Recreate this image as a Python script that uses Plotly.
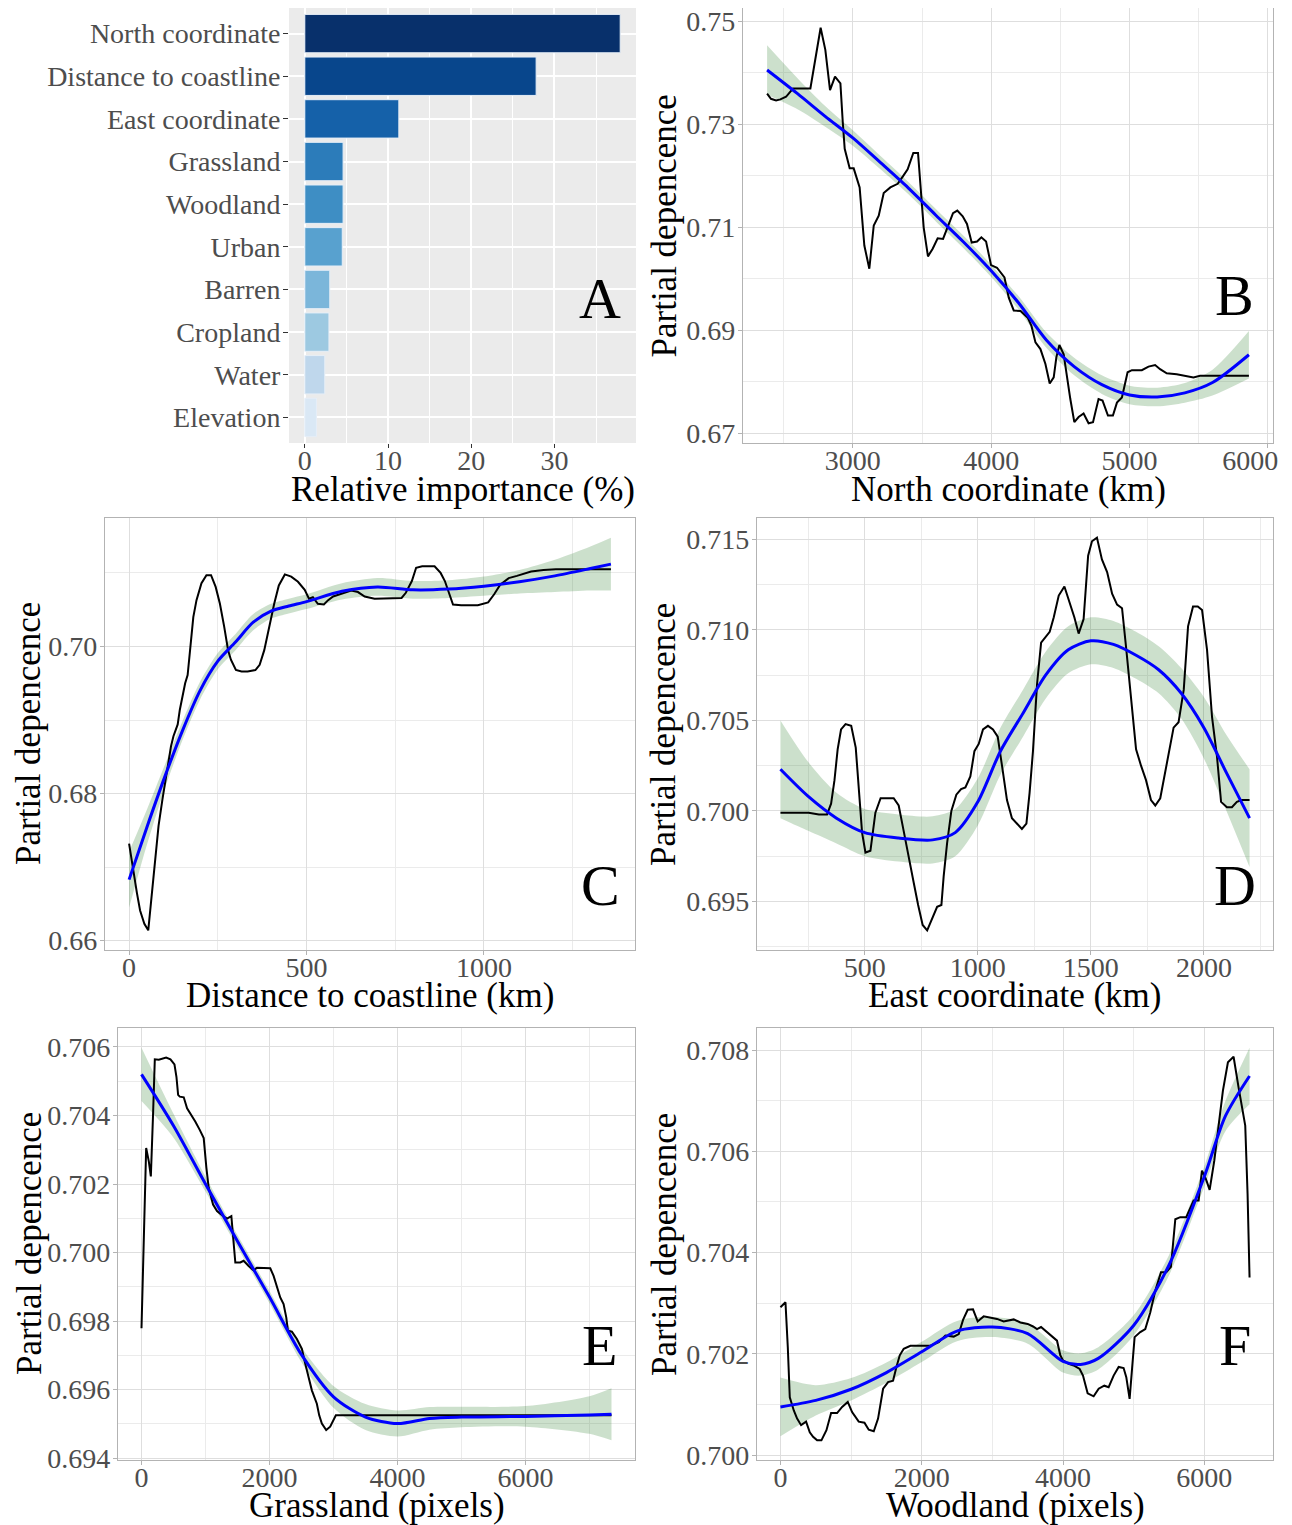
import plotly.graph_objects as go

FONT = "Liberation Serif"
W, H = 1292, 1525
OFF = 8                      # browser body margin
FW, FH = W - OFF, H - OFF    # figure size so that it fills the window

# ---------------- Panel A: relative importance ----------------
imp_vars = ["North coordinate", "Distance to coastline", "East coordinate", "Grassland",
            "Woodland", "Urban", "Barren", "Cropland", "Water", "Elevation"]
imp_vals = [37.9, 27.8, 11.3, 4.6, 4.6, 4.5, 3.0, 2.9, 2.4, 1.4]
imp_colors = ["#08306B", "#08468C", "#1561A9", "#2C7CBA", "#3E8EC4",
              "#58A1CF", "#7BB6DA", "#9DC9E1", "#BFD7EC", "#DAE8F5"]
imp_ticks = [0, 10, 20, 30]

# ---------------- Panel B: North coordinate ----------------
nc_x = [2380, 2408, 2445, 2476, 2517, 2543, 2567, 2693, 2724, 2767, 2801, 2835, 2871, 2910, 2927,
        2941, 2977, 3006, 3049, 3083, 3119, 3151, 3187, 3223, 3271, 3324, 3358, 3396, 3437, 3471,
        3512, 3543, 3577, 3613, 3652, 3686, 3724, 3755, 3794, 3825, 3859, 3898, 3929, 3963, 3999,
        4042, 4096, 4127, 4163, 4212, 4264, 4291, 4320, 4356, 4392, 4423, 4452, 4471, 4493, 4524,
        4548, 4572, 4601, 4632, 4668, 4704, 4736, 4776, 4805, 4844, 4880, 4909, 4945, 4969, 4986,
        5017, 5089, 5137, 5185, 5221, 5269, 5341, 5413, 5462, 5510, 5863]
nc_pd = [0.7359, 0.7349, 0.7346, 0.7348, 0.7353, 0.7361, 0.7369, 0.7369, 0.7421, 0.7487, 0.7444,
         0.7366, 0.7392, 0.7379, 0.7304, 0.7252, 0.7214, 0.7214, 0.7177, 0.7064, 0.7019, 0.7103,
         0.7122, 0.7166, 0.7177, 0.7184, 0.7197, 0.7212, 0.7244, 0.7244, 0.7099, 0.7043, 0.7058,
         0.7078, 0.7077, 0.7099, 0.7127, 0.7132, 0.7121, 0.7106, 0.7070, 0.7072, 0.7080, 0.7072,
         0.7026, 0.7021, 0.7002, 0.6963, 0.6938, 0.6937, 0.6924, 0.6908, 0.6876, 0.6863, 0.6834,
         0.6796, 0.6808, 0.6847, 0.6871, 0.6853, 0.6808, 0.6766, 0.6721, 0.6731, 0.6738, 0.6719,
         0.6721, 0.6766, 0.6763, 0.6734, 0.6734, 0.6759, 0.6769, 0.6796, 0.6818, 0.6822, 0.6822,
         0.6829, 0.6832, 0.6824, 0.6816, 0.6814, 0.6811, 0.6808, 0.6811, 0.6811]
nc_fit_x = [2380, 2600, 2800, 3000, 3200, 3400, 3600, 3800, 4000, 4200, 4400, 4600, 4800, 5000,
            5200, 5400, 5600, 5863]
nc_fit = [0.7405, 0.7359, 0.7315, 0.7273, 0.7225, 0.7176, 0.7123, 0.7071, 0.7015, 0.6952, 0.6880,
          0.6829, 0.6794, 0.6774, 0.6770, 0.6778, 0.6798, 0.6852]
nc_se = [0.0048, 0.0030, 0.0020, 0.0015, 0.0013, 0.0012, 0.0012, 0.0012, 0.0012, 0.0013, 0.0015,
         0.0017, 0.0018, 0.0018, 0.0018, 0.0019, 0.0025, 0.0046]

# ---------------- Panel C: Distance to coastline ----------------
dc_x = [0, 9, 22, 31, 43, 54, 64, 73, 83, 94, 106, 118, 125, 137, 143, 151, 158, 165, 174, 181,
        190, 204, 218, 231, 244, 256, 268, 279, 287, 301, 317, 334, 356, 368, 381, 395, 409, 422,
        439, 457, 476, 495, 507, 518, 532, 549, 561, 575, 598, 626, 645, 664, 692, 729, 768, 780,
        797, 809, 826, 861, 878, 890, 901, 913, 936, 983, 1012, 1029, 1046, 1070, 1093, 1116, 1133,
        1168, 1203, 1358]
dc_pd = [0.6732, 0.6702, 0.6665, 0.6641, 0.6623, 0.6614, 0.6665, 0.6706, 0.6756, 0.6792, 0.6828,
         0.6864, 0.6878, 0.6894, 0.6914, 0.6934, 0.6950, 0.6961, 0.7004, 0.7040, 0.7063, 0.7086,
         0.7097, 0.7097, 0.7081, 0.7058, 0.7027, 0.6995, 0.6982, 0.6968, 0.6966, 0.6966, 0.6968,
         0.6975, 0.6995, 0.7027, 0.7058, 0.7083, 0.7098, 0.7095, 0.7088, 0.7077, 0.7065, 0.7067,
         0.7058, 0.7057, 0.7063, 0.7068, 0.7072, 0.7076, 0.7074, 0.7068, 0.7065, 0.7065, 0.7066,
         0.7073, 0.7089, 0.7107, 0.7109, 0.7109, 0.7100, 0.7089, 0.7073, 0.7057, 0.7056, 0.7056,
         0.7060, 0.7071, 0.7084, 0.7093, 0.7096, 0.7099, 0.7102, 0.7104, 0.7105, 0.7105]
dc_fit_x = [0, 50, 100, 150, 200, 250, 300, 350, 400, 450, 500, 600, 700, 800, 900, 1000, 1100,
            1200, 1300, 1358]
dc_fit = [0.6683, 0.6754, 0.6822, 0.6885, 0.6940, 0.6980, 0.7006, 0.7033, 0.7048, 0.7055, 0.7061,
          0.7075, 0.7081, 0.7077, 0.7078, 0.7082, 0.7088, 0.7096, 0.7106, 0.7112]
dc_se = [0.0038, 0.0024, 0.0016, 0.0013, 0.0012, 0.0011, 0.0011, 0.0011, 0.0010, 0.0010, 0.0010,
         0.0011, 0.0012, 0.0012, 0.0012, 0.0013, 0.0016, 0.0022, 0.0030, 0.0036]

# ---------------- Panel D: East coordinate ----------------
ec_x = [127, 252, 297, 333, 351, 366, 380, 395, 415, 440, 460, 473, 488, 503, 525, 547, 570, 628,
        650, 672, 695, 717, 736, 756, 776, 798, 820, 839, 849, 864, 883, 905, 926, 945, 967, 985,
        1004, 1023, 1045, 1067, 1088, 1107, 1129, 1151, 1173, 1195, 1215, 1229, 1244, 1262, 1280,
        1299, 1318, 1336, 1358, 1383, 1405, 1427, 1446, 1468, 1488, 1505, 1527, 1549, 1572, 1594,
        1616, 1638, 1657, 1678, 1700, 1722, 1744, 1766, 1785, 1807, 1829, 1851, 1866, 1888, 1911,
        1930, 1952, 1973, 1992, 2014, 2036, 2058, 2076, 2102, 2124, 2146, 2168, 2202]
ec_pd = [0.6999, 0.6999, 0.6998, 0.6998, 0.7004, 0.7017, 0.7034, 0.7045, 0.7048, 0.7047, 0.7035,
         0.7012, 0.6988, 0.6977, 0.6978, 0.6999, 0.7007, 0.7007, 0.7003, 0.6989, 0.6973, 0.6960,
         0.6948, 0.6937, 0.6934, 0.6941, 0.6947, 0.6948, 0.6964, 0.6982, 0.7000, 0.7009, 0.7012,
         0.7013, 0.7019, 0.7033, 0.7037, 0.7045, 0.7047, 0.7045, 0.7041, 0.7025, 0.7006, 0.6996,
         0.6993, 0.6990, 0.6993, 0.7010, 0.7033, 0.7070, 0.7093, 0.7096, 0.7099, 0.7107, 0.7119,
         0.7124, 0.7116, 0.7107, 0.7098, 0.7106, 0.7141, 0.7149, 0.7151, 0.7139, 0.7132, 0.7120,
         0.7114, 0.7112, 0.7089, 0.7061, 0.7034, 0.7025, 0.7017, 0.7006, 0.7003, 0.7007, 0.7021,
         0.7035, 0.7046, 0.7049, 0.7067, 0.7102, 0.7113, 0.7113, 0.7111, 0.7089, 0.7052, 0.7030,
         0.7005, 0.7002, 0.7002, 0.7005, 0.7006, 0.7006]
ec_fit_x = [127, 250, 375, 500, 650, 800, 900, 1000, 1100, 1200, 1300, 1400, 1500, 1600, 1700,
            1800, 1900, 2000, 2100, 2202]
ec_fit = [0.7023, 0.7008, 0.6996, 0.6988, 0.6985, 0.6984, 0.6988, 0.7005, 0.7033, 0.7054, 0.7075,
          0.7089, 0.7094, 0.7092, 0.7086, 0.7078, 0.7065, 0.7046, 0.7021, 0.6996]
ec_se = [0.0027, 0.0019, 0.0014, 0.0013, 0.0013, 0.0013, 0.0013, 0.0013, 0.0013, 0.0013, 0.0013,
         0.0013, 0.0013, 0.0013, 0.0013, 0.0013, 0.0014, 0.0017, 0.0021, 0.0027]

# ---------------- Panel E: Grassland ----------------
gl_x = [0, 36, 73, 114, 146, 182, 208, 270, 322, 385, 452, 515, 546, 572, 598, 660, 712, 764, 842,
        910, 972, 1014, 1050, 1118, 1180, 1258, 1336, 1404, 1430, 1466, 1544, 1596, 1674, 1752,
        1804, 1908, 2012, 2064, 2116, 2168, 2220, 2262, 2288, 2350, 2428, 2506, 2558, 2610, 2662,
        2740, 2777, 2818, 2886, 2948, 2990, 3037, 3676, 7344]
gl_pd = [0.69779, 0.70072, 0.70305, 0.70266, 0.70222, 0.70411, 0.70564, 0.70563, 0.70566, 0.70569,
         0.70564, 0.70549, 0.70513, 0.70460, 0.70455, 0.70453, 0.70421, 0.70406, 0.70382, 0.70358,
         0.70334, 0.70247, 0.70189, 0.70140, 0.70121, 0.70109, 0.70099, 0.70106, 0.70053, 0.69971,
         0.69971, 0.69976, 0.69961, 0.69948, 0.69956, 0.69956, 0.69954, 0.69932, 0.69903, 0.69869,
         0.69850, 0.69811, 0.69772, 0.69769, 0.69748, 0.69719, 0.69676, 0.69637, 0.69598, 0.69559,
         0.69525, 0.69501, 0.69482, 0.69492, 0.69506, 0.69525, 0.69525, 0.69525]
gl_fit_x = [0, 500, 1000, 1500, 2000, 2500, 3000, 3500, 4000, 4500, 5000, 6000, 7000, 7344]
gl_fit = [0.70520, 0.70370, 0.70200, 0.70033, 0.69870, 0.69702, 0.69579, 0.69520, 0.69501,
          0.69516, 0.69520, 0.69522, 0.69526, 0.69528]
gl_se = [0.00078, 0.00035, 0.00022, 0.00018, 0.00018, 0.00022, 0.00032, 0.00038, 0.00038,
         0.00033, 0.00030, 0.00030, 0.00055, 0.00076]

# ---------------- Panel F: Woodland ----------------
wl_x = [0, 71, 104, 132, 189, 236, 292, 363, 415, 462, 519, 580, 651, 717, 802, 873, 953, 1014,
        1108, 1189, 1250, 1321, 1382, 1453, 1524, 1594, 1642, 1689, 1745, 1840, 1981, 2123, 2241,
        2335, 2453, 2524, 2585, 2651, 2726, 2792, 2877, 2972, 3066, 3160, 3302, 3396, 3500, 3576,
        3632, 3689, 3774, 3844, 3915, 3962, 4000, 4080, 4151, 4236, 4283, 4349, 4434, 4505, 4585,
        4646, 4717, 4788, 4858, 4896, 4943, 5014, 5094, 5165, 5236, 5307, 5387, 5462, 5528, 5590,
        5660, 5745, 5793, 5849, 5920, 5967, 6024, 6076, 6142, 6203, 6264, 6335, 6415, 6486, 6580,
        6613, 6641]
wl_pd = [0.70292, 0.70302, 0.70213, 0.70114, 0.70088, 0.70072, 0.70059, 0.70066, 0.70045, 0.70036,
         0.70029, 0.70029, 0.70049, 0.70083, 0.70083, 0.70095, 0.70105, 0.70085, 0.70066, 0.70064,
         0.70050, 0.70047, 0.70072, 0.70131, 0.70144, 0.70147, 0.70174, 0.70197, 0.70210, 0.70216,
         0.70216, 0.70216, 0.70223, 0.70236, 0.70234, 0.70239, 0.70267, 0.70287, 0.70288, 0.70264,
         0.70274, 0.70272, 0.70269, 0.70264, 0.70268, 0.70262, 0.70259, 0.70254, 0.70249, 0.70253,
         0.70243, 0.70236, 0.70226, 0.70197, 0.70187, 0.70180, 0.70177, 0.70170, 0.70157, 0.70122,
         0.70116, 0.70131, 0.70137, 0.70134, 0.70157, 0.70174, 0.70172, 0.70154, 0.70111, 0.70233,
         0.70243, 0.70249, 0.70282, 0.70325, 0.70361, 0.70361, 0.70372, 0.70466, 0.70470, 0.70470,
         0.70486, 0.70503, 0.70503, 0.70562, 0.70545, 0.70524, 0.70582, 0.70654, 0.70720, 0.70776,
         0.70787, 0.70726, 0.70651, 0.70516, 0.70351]
wl_fit_x = [0, 500, 1000, 1500, 2000, 2500, 3000, 3500, 4000, 4250, 4500, 5000, 5500, 6000, 6300,
            6641]
wl_fit = [0.70095, 0.70108, 0.70130, 0.70163, 0.70204, 0.70245, 0.70253, 0.70240, 0.70185,
          0.70179, 0.70191, 0.70256, 0.70375, 0.70550, 0.70670, 0.70749]
wl_se = [0.00058, 0.00030, 0.00022, 0.00020, 0.00020, 0.00020, 0.00020, 0.00020, 0.00022,
         0.00022, 0.00022, 0.00020, 0.00020, 0.00020, 0.00030, 0.00056]

# tick definitions
B_xt = [3000, 4000, 5000, 6000]; B_xtt = ["3000", "4000", "5000", "6000&nbsp;&nbsp;&nbsp;&nbsp;&nbsp;"]
B_xm = [2500, 3500, 4500, 5500]
B_yt = [0.67, 0.69, 0.71, 0.73, 0.75]; B_ytt = ["0.67", "0.69", "0.71", "0.73", "0.75"]
B_ym = [0.68, 0.70, 0.72, 0.74]
C_xt = [0, 500, 1000]; C_xm = [250, 750, 1250]
C_yt = [0.66, 0.68, 0.70]; C_ytt = ["0.66", "0.68", "0.70"]; C_ym = [0.67, 0.69, 0.71]
D_xt = [500, 1000, 1500, 2000]; D_xm = [250, 750, 1250, 1750, 2250]
D_yt = [0.695, 0.700, 0.705, 0.710, 0.715]; D_ytt = ["0.695", "0.700", "0.705", "0.710", "0.715"]
D_ym = [0.6925, 0.6975, 0.7025, 0.7075, 0.7125]
E_xt = [0, 2000, 4000, 6000]; E_xm = [1000, 3000, 5000, 7000]
E_yt = [0.694, 0.696, 0.698, 0.700, 0.702, 0.704, 0.706]
E_ytt = ["0.694", "0.696", "0.698", "0.700", "0.702", "0.704", "0.706"]
E_ym = [0.695, 0.697, 0.699, 0.701, 0.703, 0.705]
F_xt = [0, 2000, 4000, 6000]; F_xm = [1000, 3000, 5000]
F_yt = [0.700, 0.702, 0.704, 0.706, 0.708]; F_ytt = ["0.700", "0.702", "0.704", "0.706", "0.708"]
F_ym = [0.701, 0.703, 0.705, 0.707]

PD = "Partial depencence"
x_titles = ["Relative importance (%)", "North coordinate (km)", "Distance to coastline (km)",
            "East coordinate (km)", "Grassland (pixels)", "Woodland (pixels)"]
panel_letters = ["A", "B", "C", "D", "E", "F"]

fig = go.Figure()

# ---- Panel A bars ----
fig.add_trace(go.Bar(
    x=imp_vals, y=imp_vars, orientation="h", width=0.9,
    marker=dict(color=imp_colors, line=dict(color="#E6EEF7", width=1)),
    xaxis="x", yaxis="y", showlegend=False, hoverinfo="skip"))


def expand(vals, frac=0.05):
    lo, hi = min(vals), max(vals)
    d = (hi - lo) * frac
    return [lo - d, hi + d]


def add_panel(n, x, y, fx, fy, se):
    xa, ya = f"x{n}", f"y{n}"
    lo = [a - b for a, b in zip(fy, se)]
    hi = [a + b for a, b in zip(fy, se)]
    fig.add_trace(go.Scatter(x=fx, y=lo, mode="lines",
                             line=dict(width=0, shape="spline", smoothing=0.8),
                             xaxis=xa, yaxis=ya, showlegend=False, hoverinfo="skip"))
    fig.add_trace(go.Scatter(x=fx, y=hi, mode="lines",
                             line=dict(width=0, shape="spline", smoothing=0.8),
                             fill="tonexty", fillcolor="rgba(0,100,0,0.2)",
                             xaxis=xa, yaxis=ya, showlegend=False, hoverinfo="skip"))
    fig.add_trace(go.Scatter(x=x, y=y, mode="lines", line=dict(color="black", width=2),
                             xaxis=xa, yaxis=ya, showlegend=False, hoverinfo="skip"))
    fig.add_trace(go.Scatter(x=fx, y=fy, mode="lines",
                             line=dict(color="#0000FF", width=3, shape="spline", smoothing=0.8),
                             xaxis=xa, yaxis=ya, showlegend=False, hoverinfo="skip"))
    xr = expand(list(x) + list(fx))
    yr = expand(list(y) + lo + hi)
    return xr, yr


rB = add_panel(2, nc_x, nc_pd, nc_fit_x, nc_fit, nc_se)
rC = add_panel(3, dc_x, dc_pd, dc_fit_x, dc_fit, dc_se)
rD = add_panel(4, ec_x, ec_pd, ec_fit_x, ec_fit, ec_se)
rE = add_panel(5, gl_x, gl_pd, gl_fit_x, gl_fit, gl_se)
rF = add_panel(6, wl_x, wl_pd, wl_fit_x, wl_fit, wl_se)

TICKF = dict(family=FONT, size=28, color="#4D4D4D")
TITLEF = dict(family=FONT, size=35, color="black")


def fx_(v):   # window pixel x -> paper fraction
    return (v - OFF) / FW


def fy_(v):   # window pixel y -> paper fraction
    return 1 - (v - OFF) / FH


def dom_x(a, b):
    return [fx_(a), fx_(b)]


def dom_y(top, bottom):
    return [fy_(bottom), fy_(top)]


def light_x(domain, anchor, rng, tv, tt, mv):
    return dict(domain=domain, anchor=anchor, range=rng, tickmode="array", tickvals=tv,
                ticktext=tt, showgrid=True, gridcolor="#DEDEDE", gridwidth=1,
                zeroline=False, showline=True, mirror=True, linecolor="#B3B3B3", linewidth=1.2,
                ticks="outside", ticklen=4, tickcolor="#B3B3B3", tickfont=TICKF,
                ticklabelstandoff=-12, ticklabeloverflow="allow",
                minor=dict(tickvals=mv, showgrid=True, gridcolor="#EBEBEB", gridwidth=1, ticks=""),
                automargin=False)


def light_y(domain, anchor, rng, tv, tt, mv):
    return dict(domain=domain, anchor=anchor, range=rng, tickmode="array", tickvals=tv,
                ticktext=tt, showgrid=True, gridcolor="#DEDEDE", gridwidth=1,
                zeroline=False, showline=True, mirror=True, linecolor="#B3B3B3", linewidth=1.2,
                ticks="outside", ticklen=4, tickcolor="#B3B3B3", tickfont=TICKF,
                ticklabelstandoff=-3, ticklabeloverflow="allow",
                minor=dict(tickvals=mv, showgrid=True, gridcolor="#EBEBEB", gridwidth=1, ticks=""),
                automargin=False)


def strs(v):
    return [str(a) for a in v]


# panel frames in window pixels (left, right, top, bottom)
frames = [(289, 636, 8, 443), (743, 1273, 8, 443), (105, 635, 518, 950),
          (757, 1273, 518, 950), (118, 635, 1028, 1460), (757, 1273, 1028, 1460)]
ytitle_x = [None, 664, 29, 664, 29, 664]
dx = [dom_x(f[0], f[1]) for f in frames]
dy = [dom_y(f[2], f[3]) for f in frames]

layout = dict(
    width=FW, height=FH, margin=dict(l=0, r=0, t=0, b=0),
    paper_bgcolor="white", plot_bgcolor="white", showlegend=False,
    font=dict(family=FONT),
    xaxis=dict(domain=dx[0], anchor="y", range=[-1.9, 39.8], tickmode="array",
               tickvals=imp_ticks, ticktext=strs(imp_ticks),
               showgrid=True, gridcolor="white", gridwidth=1.6, zeroline=False, showline=False,
               ticks="outside", ticklen=4, tickcolor="#333333", tickfont=TICKF,
               ticklabelstandoff=-12, ticklabeloverflow="allow",
               minor=dict(tickvals=[5, 15, 25, 35], showgrid=True, gridcolor="white",
                          gridwidth=0.8, ticks=""),
               automargin=False),
    yaxis=dict(domain=dy[0], anchor="x", type="category", categoryorder="array",
               categoryarray=imp_vars, range=[9.6, -0.6], showgrid=True, gridcolor="white",
               gridwidth=1.6, zeroline=False, showline=False, ticks="outside", ticklen=5,
               tickcolor="#333333", tickfont=TICKF, ticklabelstandoff=-3,
               ticklabeloverflow="allow", automargin=False),
    xaxis2=light_x(dx[1], "y2", rB[0], B_xt, B_xtt, B_xm),
    yaxis2=light_y(dy[1], "x2", rB[1], B_yt, B_ytt, B_ym),
    xaxis3=light_x(dx[2], "y3", rC[0], C_xt, strs(C_xt), C_xm),
    yaxis3=light_y(dy[2], "x3", rC[1], C_yt, C_ytt, C_ym),
    xaxis4=light_x(dx[3], "y4", rD[0], D_xt, strs(D_xt), D_xm),
    yaxis4=light_y(dy[3], "x4", rD[1], D_yt, D_ytt, D_ym),
    xaxis5=light_x(dx[4], "y5", rE[0], E_xt, strs(E_xt), E_xm),
    yaxis5=light_y(dy[4], "x5", rE[1], E_yt, E_ytt, E_ym),
    xaxis6=light_x(dx[5], "y6", rF[0], F_xt, strs(F_xt), F_xm),
    yaxis6=light_y(dy[5], "x6", rF[1], F_yt, F_ytt, F_ym),
)
fig.update_layout(**layout)

# gray panel background for A
fig.add_shape(type="rect", xref="x domain", yref="y domain", x0=0, x1=1, y0=0, y1=1,
              fillcolor="#EBEBEB", line=dict(width=0), layer="below")

# axis titles
for i, (l, r, t, b) in enumerate(frames):
    ty = b + 46 if b < 1400 else b + 45
    fig.add_annotation(text=x_titles[i], xref="paper", yref="paper", x=fx_((l + r) / 2),
                       y=fy_(ty), showarrow=False, xanchor="center", yanchor="middle",
                       font=TITLEF)
    if i > 0:
        fig.add_annotation(text=PD, xref="paper", yref="paper", x=fx_(ytitle_x[i]),
                           y=fy_((t + b) / 2), textangle=-90, showarrow=False,
                           xanchor="center", yanchor="middle", font=TITLEF)

letter_pos = [(0.896, 0.333), (0.928, 0.338), (0.934, 0.15), (0.926, 0.15), (0.932, 0.266),
              (0.926, 0.266)]
for i, (ax_, ay_) in enumerate(letter_pos):
    n = "" if i == 0 else str(i + 1)
    fig.add_annotation(text=panel_letters[i], xref=f"x{n} domain", yref=f"y{n} domain",
                       x=ax_, y=ay_, showarrow=False, xanchor="center", yanchor="middle",
                       font=dict(family=FONT, size=58, color="black"))

fig.write_html("out.html")
